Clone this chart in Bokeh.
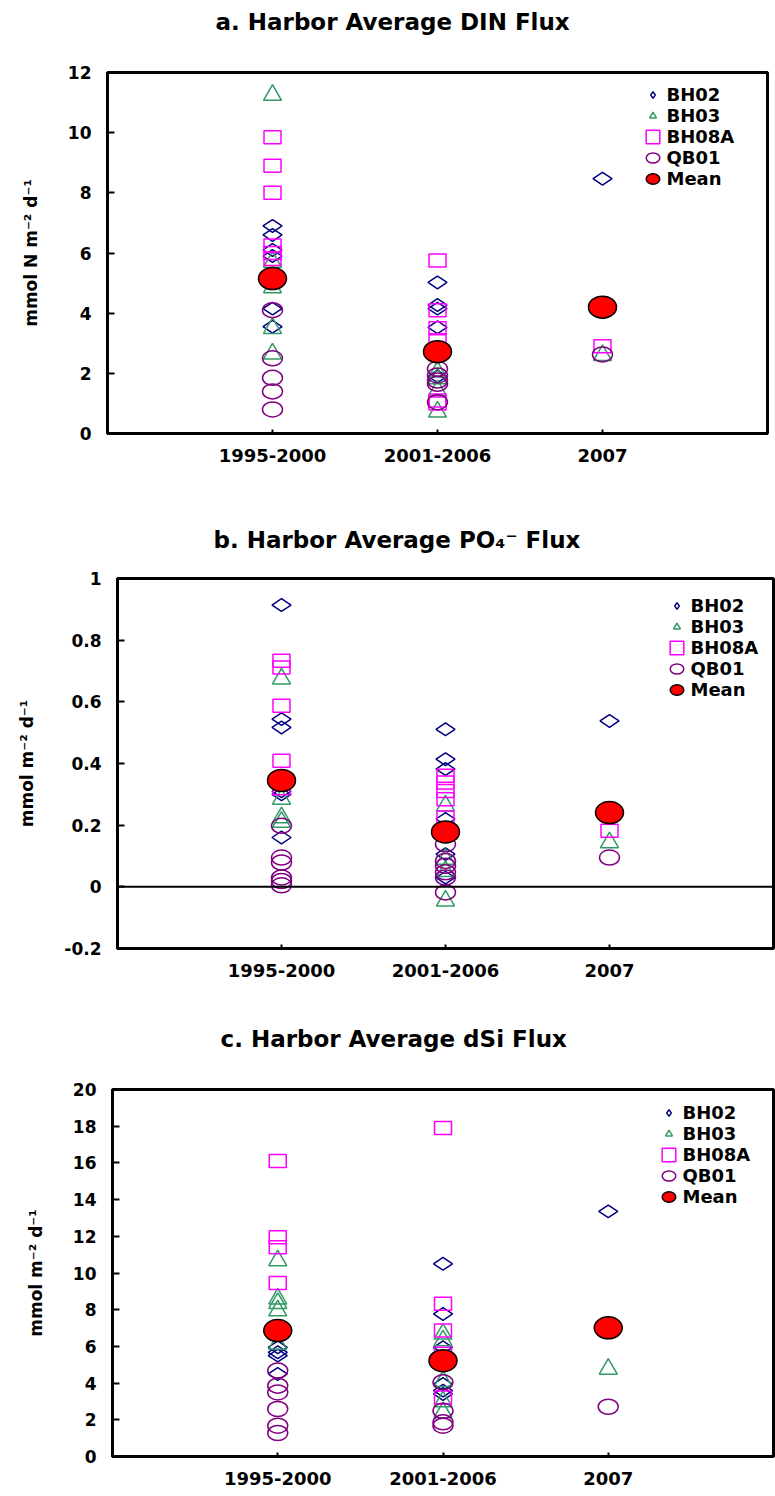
import numpy as np
from bokeh.plotting import figure
from bokeh.models import Range1d, FixedTicker, NumeralTickFormatter, Legend, LegendItem, Span, Title
from bokeh.embed import file_html
from bokeh.resources import INLINE

periods = ["1995-2000", "2001-2006", "2007"]
stations = ["BH02", "BH03", "BH08A", "QB01"]

# a. DIN flux (mmol N m-2 d-1), values per period
din_bh02 = [[6.9, 6.6, 6.1, 5.9, 4.15, 3.55], [5.02, 4.27, 4.15, 3.53, 1.9], [8.47]]
din_bh03 = [[11.25, 5.7, 4.85, 3.5, 2.65], [2.05, 1.83, 1.43, 0.72], [2.6]]
din_bh08a = [[9.85, 8.9, 8.0, 6.25, 6.0, 5.8], [5.75, 4.1, 3.5, 3.1, 1.1, 1.0], [2.9]]
din_qb01 = [[4.1, 2.5, 1.85, 1.4, 0.8], [2.15, 1.93, 1.76, 1.65, 1.04], [2.63]]
din_mean = [5.15, 2.72, 4.2]

# b. PO4 flux (mmol m-2 d-1)
po4_bh02 = [[0.914, 0.544, 0.517, 0.31, 0.30, 0.16], [0.511, 0.414, 0.382, 0.22, 0.106, 0.03], [0.538]]
po4_bh03 = [[0.675, 0.285, 0.225, 0.21], [0.263, 0.09, 0.05, -0.045], [0.144]]
po4_bh08a = [[0.733, 0.711, 0.587, 0.409, 0.32], [0.36, 0.338, 0.311, 0.284, 0.225], [0.182]]
po4_qb01 = [[0.198, 0.095, 0.079, 0.03, 0.019, 0.005], [0.138, 0.084, 0.068, 0.047, 0.03, -0.018], [0.095]]
po4_mean = [0.345, 0.178, 0.241]

# c. dSi flux (mmol m-2 d-1)
dsi_bh02 = [[5.95, 5.68, 5.5, 4.5], [10.5, 7.77, 5.95, 3.95, 3.59, 3.41], [13.36]]
dsi_bh03 = [[10.68, 8.59, 8.35, 7.95, 6.13], [6.68, 6.32, 4.1, 3.0, 2.4], [4.77]]
dsi_bh08a = [[16.1, 11.95, 11.41, 9.46], [17.9, 8.32, 6.86, 5.6, 3.22], []]
dsi_qb01 = [[4.68, 3.86, 3.49, 2.59, 1.68, 1.28], [4.04, 2.49, 1.86, 1.68], [2.71]]
dsi_mean = [6.86, 5.22, 7.01]

din_ticks = [0, 2, 4, 6, 8, 10, 12]
po4_ticks = [-0.2, 0, 0.2, 0.4, 0.6, 0.8, 1]
dsi_ticks = [0, 2, 4, 6, 8, 10, 12, 14, 16, 18, 20]

FONT = "DejaVu Sans"


def flat(series):
    xs, ys = [], []
    for i, vals in enumerate(series):
        for v in vals:
            xs.append(i + 1)
            ys.append(v)
    return xs, ys


def make_panel(title, ylabel, ylo, yhi, ticks, series, mean, height,
               bl, br, bt, bb, spacer, toff, leg_loc, numfmt=False, zero=False):
    p = figure(width=775, height=height, output_backend="svg", toolbar_location=None,
               x_range=Range1d(0, 4), y_range=Range1d(ylo, yhi),
               min_border_left=bl, min_border_right=br, min_border_top=bt, min_border_bottom=bb,
               background_fill_color="white", border_fill_color="white")
    p.xgrid.visible = False
    p.ygrid.visible = False
    p.outline_line_color = "black"
    p.outline_line_width = 3
    p.outline_line_alpha = 1

    # spacer between frame and title, then the title itself
    p.add_layout(Title(text=" ", text_font_size="1px", standoff=spacer), "above")
    p.add_layout(Title(text=title, align="left", offset=toff, standoff=0,
                       text_font=FONT, text_font_style="bold", text_font_size="23px",
                       text_color="black"), "above")

    for ax in (p.xaxis[0], p.yaxis[0]):
        ax.axis_line_width = 3
        ax.axis_line_color = "black"
        ax.major_tick_line_width = 2
        ax.major_tick_line_color = "black"
        ax.minor_tick_line_color = None
        ax.major_tick_out = 0
        ax.major_label_text_font = FONT
        ax.major_label_text_font_style = "bold"
        ax.major_label_text_color = "black"

    xa = p.xaxis[0]
    xa.ticker = FixedTicker(ticks=[1, 2, 3])
    xa.major_label_overrides = {i + 1: lab for i, lab in enumerate(periods)}
    xa.major_tick_in = 4
    xa.major_label_text_font_size = "18px"
    xa.major_label_standoff = 15

    ya = p.yaxis[0]
    ya.ticker = FixedTicker(ticks=ticks)
    if numfmt:
        ya.formatter = NumeralTickFormatter(format="0.[0]")
    ya.major_tick_in = 7
    ya.major_label_text_font_size = "17px"
    ya.major_label_standoff = 16
    ya.axis_label = ylabel
    ya.axis_label_text_font = FONT
    ya.axis_label_text_font_style = "bold"
    ya.axis_label_text_font_size = "17px"
    ya.axis_label_text_color = "black"
    ya.axis_label_standoff = 24

    if zero:
        p.add_layout(Span(location=0, dimension="width", line_color="black", line_width=2))

    bh02, bh03, bh08a, qb01 = series
    x, y = flat(bh02)
    r1 = p.scatter(x, y, marker="diamond", size=19, angle=np.pi / 2,
                   fill_color=None, line_color="#000080", line_width=1.5)
    x, y = flat(bh03)
    r2 = p.scatter(x, y, marker="triangle", size=18,
                   fill_color=None, line_color="#339966", line_width=1.5)
    x, y = flat(bh08a)
    r3 = p.rect(x, y, width=17, height=13, width_units="screen", height_units="screen",
                fill_color=None, line_color="#FF00FF", line_width=1.5)
    x, y = flat(qb01)
    r4 = p.ellipse(x, y, width=20, height=15, width_units="screen", height_units="screen",
                   fill_color=None, line_color="#800080", line_width=1.5)
    r5 = p.ellipse([1, 2, 3], mean, width=28, height=22, width_units="screen", height_units="screen",
                   fill_color="#FF0000", line_color="black", line_width=1.5)

    items = [LegendItem(label=lab, renderers=[r]) for lab, r in
             zip(stations + ["Mean"], [r1, r2, r3, r4, r5])]
    leg = Legend(items=items, location=leg_loc, glyph_width=17, glyph_height=17,
                 label_height=17, spacing=0, padding=0, margin=0, label_standoff=6,
                 background_fill_alpha=0, border_line_alpha=0,
                 label_text_font=FONT, label_text_font_style="bold",
                 label_text_font_size="18px", label_text_color="black")
    p.add_layout(leg)
    return p


pa = make_panel("a. Harbor Average DIN Flux", "mmol N m\u207b\u00b2 d\u207b\u00b9", 0, 12, din_ticks,
                [din_bh02, din_bh03, din_bh08a, din_qb01], din_mean, 500,
                107, 8, 72, 67, 35, 108, (536.5, 244))
pb = make_panel("b. Harbor Average PO\u2084\u207b Flux", "mmol m\u207b\u00b2 d\u207b\u00b9", -0.2, 1, po4_ticks,
                [po4_bh02, po4_bh03, po4_bh08a, po4_qb01], po4_mean, 500,
                117, 2, 78, 52, 23, 96, (550.5, 248), numfmt=True, zero=True)
pc = make_panel("c. Harbor Average dSi Flux", "mmol m\u207b\u00b2 d\u207b\u00b9", 0, 20, dsi_ticks,
                [dsi_bh02, dsi_bh03, dsi_bh08a, dsi_qb01], dsi_mean, 496,
                112, 2, 89, 40, 35, 108, (547.5, 249))

open("out.html", "w").write(file_html([pa, pb, pc], INLINE))
